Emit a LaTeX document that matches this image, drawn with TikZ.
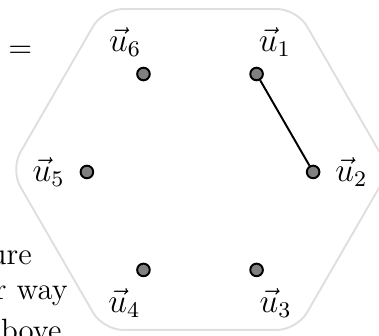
\documentclass[tikz,border=0pt]{standalone}
\begin{document}
\begin{tikzpicture}[vertex/.style={circle, draw, fill=gray, line width=0.7pt, inner sep=0pt, minimum size=4.5pt}, vlabel/.style={font=\large}, frag/.style={inner sep=0pt, anchor=base east, font=\fontsize{11}{13}\selectfont}]
    \path[use as bounding box, clip] (-2.511,-2.048) rectangle (2.247,2.159);
    \draw[gray!25, line width=0.7pt, rounded corners=2.5mm] (2.38,0.031) -- (1.217,-1.983) -- (-1.217,-1.983) -- (-2.38,0.031) -- (-1.217,2.046) -- (1.217,2.046) -- cycle;

    \node[vertex] (u1) at (60:1.42) {};
    \node[vertex] (u2) at (0:1.42) {};
    \node[vertex] (u3) at (-60:1.42) {};
    \node[vertex] (u4) at (-120:1.42) {};
    \node[vertex] (u5) at (180:1.42) {};
    \node[vertex] (u6) at (120:1.42) {};

    \node[vlabel] (l1) at (60:1.88) {$\vec{u}_1$};
    \node[vlabel] (l2) at (0:1.9) {$\vec{u}_2$};
    \node[vlabel] (l3) at (-60:1.9) {$\vec{u}_3$};
    \node[vlabel] (l4) at (-120:1.9) {$\vec{u}_4$};
    \node[vlabel] (l5) at (180:1.9) {$\vec{u}_5$};
    \node[vlabel] (l6) at (120:1.88) {$\vec{u}_6$};

    \draw[line width=0.7pt] (u1) -- (u2);

    % cut-off text round the picture
    \node[frag] (paren) at (-2.45,2.18) {)};
    \node[inner sep=0pt, anchor=base, font=\fontsize{11}{13}\selectfont] (eq) at (-2.255,1.44) {$=$};
    \node[frag] (line1) at (-2.105,-1.167) {ure};
    \node[frag] (line2) at (-1.653,-1.607) {r way};
    \node[frag] (line3) at (-1.733,-2.11) {bove};
\end{tikzpicture}
\end{document}
